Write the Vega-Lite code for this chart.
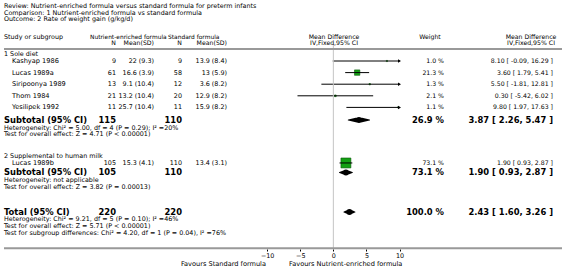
{
  "$schema": "https://vega.github.io/schema/vega-lite/v6.json",
  "width": 566,
  "height": 249,
  "autosize": "none",
  "padding": {"left": 0, "top": 0, "right": 0, "bottom": 23},
  "background": "white",
  "config": {
    "view": {"stroke": null},
    "text": {"font": "DejaVu Sans", "fontSize": 6.4, "baseline": "middle", "color": "#000000"},
    "axis": {"labelFont": "DejaVu Sans"}
  },
  "datasets": {
    "studies": [
      {"row": 1, "study": "Kashyap 1986", "n1": 9, "m1": "22 (9.3)", "n2": 9, "m2": "13.9 (8.4)", "md": 8.10, "lo": -0.09, "hi": 16.29, "w": 1.0, "wl": "1.0 %", "ci": "8.10 [ -0.09, 16.29 ]"},
      {"row": 2, "study": "Lucas 1989a", "n1": 61, "m1": "16.6 (3.9)", "n2": 58, "m2": "13 (5.9)", "md": 3.60, "lo": 1.79, "hi": 5.41, "w": 21.3, "wl": "21.3 %", "ci": "3.60 [ 1.79, 5.41 ]"},
      {"row": 3, "study": "Siripoonya 1989", "n1": 13, "m1": "9.1 (10.4)", "n2": 12, "m2": "3.6 (8.2)", "md": 5.50, "lo": -1.81, "hi": 12.81, "w": 1.3, "wl": "1.3 %", "ci": "5.50 [ -1.81, 12.81 ]"},
      {"row": 4, "study": "Thom 1984", "n1": 21, "m1": "13.2 (10.4)", "n2": 20, "m2": "12.9 (8.2)", "md": 0.30, "lo": -5.42, "hi": 6.02, "w": 2.1, "wl": "2.1 %", "ci": "0.30 [ -5.42, 6.02 ]"},
      {"row": 5, "study": "Yesilipek 1992", "n1": 11, "m1": "25.7 (10.4)", "n2": 11, "m2": "15.9 (8.2)", "md": 9.80, "lo": 1.97, "hi": 17.63, "w": 1.1, "wl": "1.1 %", "ci": "9.80 [ 1.97, 17.63 ]"},
      {"row": 9.79, "study": "Lucas 1989b", "n1": 105, "m1": "15.3 (4.1)", "n2": 110, "m2": "13.4 (3.1)", "md": 1.90, "lo": 0.93, "hi": 2.87, "w": 73.1, "wl": "73.1 %", "ci": "1.90 [ 0.93, 2.87 ]"}
    ],
    "pooled": [
      {"row": 6.09, "label": "Subtotal (95% CI)", "n1": 115, "n2": 110, "md": 3.87, "lo": 2.26, "hi": 5.47, "wl": "26.9 %", "ci": "3.87 [ 2.26, 5.47 ]"},
      {"row": 10.61, "label": "Subtotal (95% CI)", "n1": 105, "n2": 110, "md": 1.90, "lo": 0.93, "hi": 2.87, "wl": "73.1 %", "ci": "1.90 [ 0.93, 2.87 ]"},
      {"row": 14.02, "label": "Total (95% CI)", "n1": 220, "n2": 220, "md": 2.43, "lo": 1.60, "hi": 3.26, "wl": "100.0 %", "ci": "2.43 [ 1.60, 3.26 ]"}
    ],
    "notes": [
      {"row": -3.76, "text": "Review: Nutrient-enriched formula versus standard formula for preterm infants"},
      {"row": -3.18, "text": "Comparison: 1 Nutrient-enriched formula vs standard formula"},
      {"row": -2.60, "text": "Outcome: 2 Rate of weight gain (g/kg/d)"},
      {"row": 0.42, "text": "1 Sole diet"},
      {"row": 6.74, "text": "Heterogeneity: Chi² = 5.00, df = 4 (P = 0.29); I² =20%"},
      {"row": 7.30, "text": "Test for overall effect: Z = 4.71 (P < 0.00001)"},
      {"row": 9.19, "text": "2 Supplemental to human milk"},
      {"row": 11.26, "text": "Heterogeneity: not applicable"},
      {"row": 11.82, "text": "Test for overall effect: Z = 3.82 (P = 0.00013)"},
      {"row": 14.66, "text": "Heterogeneity: Chi² = 9.21, df = 5 (P = 0.10); I² =46%"},
      {"row": 15.24, "text": "Test for overall effect: Z = 5.71 (P < 0.00001)"},
      {"row": 15.84, "text": "Test for subgroup differences: Chi² = 4.20, df = 1 (P = 0.04), I² =76%"}
    ],
    "headers": [
      {"row": -1.10, "col": 0, "text": "Study or subgroup"},
      {"row": -1.10, "col": 2, "text": "Nutrient-enriched formula"},
      {"row": -1.10, "col": 5, "text": "Standard formula"},
      {"row": -0.55, "col": 3, "text": "N"},
      {"row": -0.55, "col": 4, "text": "Mean(SD)"},
      {"row": -0.55, "col": 6, "text": "N"},
      {"row": -0.55, "col": 7, "text": "Mean(SD)"},
      {"row": -1.10, "col": 10, "text": "Mean Difference"},
      {"row": -0.55, "col": 10, "text": "IV,Fixed,95% CI"},
      {"row": -1.10, "col": 11, "text": "Weight"},
      {"row": -1.10, "col": 13, "text": "Mean Difference"},
      {"row": -0.55, "col": 13, "text": "IV,Fixed,95% CI"}
    ]
  },
  "resolve": {"scale": {"x": "independent"}, "axis": {"x": "independent"}},
  "layer": [
    {
      "layer": [
        {
          "data": {"name": "studies"},
          "mark": {"type": "point", "shape": "square", "filled": true, "fill": "#14a014", "stroke": "#0a5a0a", "strokeWidth": 0.6, "opacity": 1},
          "encoding": {
            "x": {"field": "md", "type": "quantitative", "scale": {"domain": [-10, 10], "range": [267.2, 399.5], "clamp": true, "zero": false, "nice": false},
                  "axis": {"values": [-10, -5, 0, 5, 10], "domain": false, "grid": false, "ticks": true, "tickSize": 2, "tickColor": "#000000", "labelFontSize": 6.4, "labelColor": "#000000", "labelPadding": 1, "title": null, "labelFlush": false, "labelOverlap": false}},
            "y": {"field": "row", "type": "quantitative", "scale": {"domain": [-4.259, 17.207], "reverse": true, "zero": false, "nice": false}, "axis": null},
            "size": {"field": "w", "type": "quantitative", "scale": {"domain": [0, 100], "range": [0, 135]}, "legend": null}
          }
        },
        {
          "data": {"name": "studies"},
          "mark": {"type": "rule", "color": "#000000", "strokeWidth": 1},
          "encoding": {
            "x": {"field": "lo", "type": "quantitative", "scale": {"domain": [-10, 10], "range": [267.2, 399.5], "clamp": true, "zero": false, "nice": false},
                  "axis": {"values": [-10, -5, 0, 5, 10], "domain": false, "grid": false, "ticks": true, "tickSize": 2, "tickColor": "#000000", "labelFontSize": 6.4, "labelColor": "#000000", "labelPadding": 1, "title": null, "labelFlush": false, "labelOverlap": false}},
            "x2": {"field": "hi"},
            "y": {"field": "row", "type": "quantitative", "scale": {"domain": [-4.259, 17.207], "reverse": true, "zero": false, "nice": false}, "axis": null}
          }
        },
        {
          "data": {"name": "studies"},
          "transform": [{"filter": "datum.hi > 10"}],
          "mark": {"type": "point", "shape": "triangle-right", "filled": true, "color": "#000000", "size": 12, "opacity": 1},
          "encoding": {
            "x": {"field": "hi", "type": "quantitative", "scale": {"domain": [-10, 10], "range": [267.2, 399.5], "clamp": true, "zero": false, "nice": false},
                  "axis": {"values": [-10, -5, 0, 5, 10], "domain": false, "grid": false, "ticks": true, "tickSize": 2, "tickColor": "#000000", "labelFontSize": 6.4, "labelColor": "#000000", "labelPadding": 1, "title": null, "labelFlush": false, "labelOverlap": false}},
            "y": {"field": "row", "type": "quantitative", "scale": {"domain": [-4.259, 17.207], "reverse": true, "zero": false, "nice": false}, "axis": null}
          }
        },
        {
          "data": {"name": "pooled"},
          "transform": [{"fold": ["lo", "md", "hi"], "as": ["key", "val"]}],
          "mark": {"type": "trail", "color": "#000000"},
          "encoding": {
            "x": {"field": "val", "type": "quantitative", "scale": {"domain": [-10, 10], "range": [267.2, 399.5], "clamp": true, "zero": false, "nice": false},
                  "axis": {"values": [-10, -5, 0, 5, 10], "domain": false, "grid": false, "ticks": true, "tickSize": 2, "tickColor": "#000000", "labelFontSize": 6.4, "labelColor": "#000000", "labelPadding": 1, "title": null, "labelFlush": false, "labelOverlap": false}},
            "y": {"field": "row", "type": "quantitative", "scale": {"domain": [-4.259, 17.207], "reverse": true, "zero": false, "nice": false}, "axis": null},
            "detail": {"field": "row", "type": "quantitative"},
            "order": {"field": "val", "type": "quantitative"},
            "size": {"condition": {"test": "datum.key === 'md'", "value": 6}, "value": 0}
          }
        },
        {
          "data": {"values": [{"v": 0}]},
          "mark": {"type": "rule", "color": "#c4c4c4", "strokeWidth": 1},
          "encoding": {
            "x": {"field": "v", "type": "quantitative", "scale": {"domain": [-10, 10], "range": [267.2, 399.5], "clamp": true, "zero": false, "nice": false},
                  "axis": {"values": [-10, -5, 0, 5, 10], "domain": false, "grid": false, "ticks": true, "tickSize": 2, "tickColor": "#000000", "labelFontSize": 6.4, "labelColor": "#000000", "labelPadding": 1, "title": null, "labelFlush": false, "labelOverlap": false}},
            "y": {"datum": -0.5, "type": "quantitative", "scale": {"domain": [-4.259, 17.207], "reverse": true, "zero": false, "nice": false}, "axis": null},
            "y2": {"datum": 17.207}
          }
        }
      ]
    },
    {
      "layer": [
        {
          "data": {"values": [{}]},
          "mark": {"type": "rule", "color": "#999999", "strokeWidth": 2},
          "encoding": {
            "x": {"datum": 0, "type": "quantitative", "scale": {"domain": [0,1,2,3,4,5,6,7,8,9,10,11,12,13,14,15], "range": [4,12,90,116,154,168,182,227,266,289,334,430,444,531,553,562], "zero": false, "nice": false}, "axis": null},
            "x2": {"datum": 15},
            "y": {"datum": -0.03, "type": "quantitative", "scale": {"domain": [-4.259, 17.207], "reverse": true, "zero": false, "nice": false}, "axis": null}
          }
        },
        {
          "data": {"values": [{}]},
          "mark": {"type": "rule", "color": "#999999", "strokeWidth": 2},
          "encoding": {
            "x": {"datum": 0, "type": "quantitative", "scale": {"domain": [0,1,2,3,4,5,6,7,8,9,10,11,12,13,14,15], "range": [4,12,90,116,154,168,182,227,266,289,334,430,444,531,553,562], "zero": false, "nice": false}, "axis": null},
            "x2": {"datum": 15},
            "y": {"datum": 17.15, "type": "quantitative", "scale": {"domain": [-4.259, 17.207], "reverse": true, "zero": false, "nice": false}, "axis": null}
          }
        },
        {
          "data": {"name": "notes"},
          "mark": {"type": "text", "align": "left", "fontSize": 6.4},
          "encoding": {
            "x": {"datum": 0, "type": "quantitative", "scale": {"domain": [0,1,2,3,4,5,6,7,8,9,10,11,12,13,14,15], "range": [4,12,90,116,154,168,182,227,266,289,334,430,444,531,553,562], "zero": false, "nice": false}, "axis": null},
            "y": {"field": "row", "type": "quantitative", "scale": {"domain": [-4.259, 17.207], "reverse": true, "zero": false, "nice": false}, "axis": null},
            "text": {"field": "text"}
          }
        },
        {
          "data": {"name": "headers"},
          "transform": [{"filter": {"field": "col", "oneOf": [0]}}],
          "mark": {"type": "text", "align": "left", "fontSize": 6.4},
          "encoding": {
            "x": {"field": "col", "type": "quantitative", "scale": {"domain": [0,1,2,3,4,5,6,7,8,9,10,11,12,13,14,15], "range": [4,12,90,116,154,168,182,227,266,289,334,430,444,531,553,562], "zero": false, "nice": false}, "axis": null},
            "y": {"field": "row", "type": "quantitative", "scale": {"domain": [-4.259, 17.207], "reverse": true, "zero": false, "nice": false}, "axis": null},
            "text": {"field": "text"}
          }
        },
        {
          "data": {"name": "headers"},
          "transform": [{"filter": {"field": "col", "oneOf": [2, 5]}}],
          "mark": {"type": "text", "align": "left", "fontSize": 5.9},
          "encoding": {
            "x": {"field": "col", "type": "quantitative", "scale": {"domain": [0,1,2,3,4,5,6,7,8,9,10,11,12,13,14,15], "range": [4,12,90,116,154,168,182,227,266,289,334,430,444,531,553,562], "zero": false, "nice": false}, "axis": null},
            "y": {"field": "row", "type": "quantitative", "scale": {"domain": [-4.259, 17.207], "reverse": true, "zero": false, "nice": false}, "axis": null},
            "text": {"field": "text"}
          }
        },
        {
          "data": {"name": "headers"},
          "transform": [{"filter": {"field": "col", "oneOf": [3, 4, 6, 7]}}],
          "mark": {"type": "text", "align": "right", "fontSize": 6.2},
          "encoding": {
            "x": {"field": "col", "type": "quantitative", "scale": {"domain": [0,1,2,3,4,5,6,7,8,9,10,11,12,13,14,15], "range": [4,12,90,116,154,168,182,227,266,289,334,430,444,531,553,562], "zero": false, "nice": false}, "axis": null},
            "y": {"field": "row", "type": "quantitative", "scale": {"domain": [-4.259, 17.207], "reverse": true, "zero": false, "nice": false}, "axis": null},
            "text": {"field": "text"}
          }
        },
        {
          "data": {"name": "headers"},
          "transform": [{"filter": {"field": "col", "oneOf": [10, 11, 13]}}],
          "mark": {"type": "text", "align": "center", "fontSize": 6.2},
          "encoding": {
            "x": {"field": "col", "type": "quantitative", "scale": {"domain": [0,1,2,3,4,5,6,7,8,9,10,11,12,13,14,15], "range": [4,12,90,116,154,168,182,227,266,289,334,430,444,531,553,562], "zero": false, "nice": false}, "axis": null},
            "y": {"field": "row", "type": "quantitative", "scale": {"domain": [-4.259, 17.207], "reverse": true, "zero": false, "nice": false}, "axis": null},
            "text": {"field": "text"}
          }
        },
        {
          "data": {"name": "studies"},
          "mark": {"type": "text", "align": "left", "fontSize": 6.6},
          "encoding": {
            "x": {"datum": 1, "type": "quantitative", "scale": {"domain": [0,1,2,3,4,5,6,7,8,9,10,11,12,13,14,15], "range": [4,12,90,116,154,168,182,227,266,289,334,430,444,531,553,562], "zero": false, "nice": false}, "axis": null},
            "y": {"field": "row", "type": "quantitative", "scale": {"domain": [-4.259, 17.207], "reverse": true, "zero": false, "nice": false}, "axis": null},
            "text": {"field": "study"}
          }
        },
        {
          "data": {"name": "studies"},
          "mark": {"type": "text", "align": "right"},
          "encoding": {
            "x": {"datum": 3, "type": "quantitative", "scale": {"domain": [0,1,2,3,4,5,6,7,8,9,10,11,12,13,14,15], "range": [4,12,90,116,154,168,182,227,266,289,334,430,444,531,553,562], "zero": false, "nice": false}, "axis": null},
            "y": {"field": "row", "type": "quantitative", "scale": {"domain": [-4.259, 17.207], "reverse": true, "zero": false, "nice": false}, "axis": null},
            "text": {"field": "n1"}
          }
        },
        {
          "data": {"name": "studies"},
          "mark": {"type": "text", "align": "right"},
          "encoding": {
            "x": {"datum": 4, "type": "quantitative", "scale": {"domain": [0,1,2,3,4,5,6,7,8,9,10,11,12,13,14,15], "range": [4,12,90,116,154,168,182,227,266,289,334,430,444,531,553,562], "zero": false, "nice": false}, "axis": null},
            "y": {"field": "row", "type": "quantitative", "scale": {"domain": [-4.259, 17.207], "reverse": true, "zero": false, "nice": false}, "axis": null},
            "text": {"field": "m1"}
          }
        },
        {
          "data": {"name": "studies"},
          "mark": {"type": "text", "align": "right"},
          "encoding": {
            "x": {"datum": 6, "type": "quantitative", "scale": {"domain": [0,1,2,3,4,5,6,7,8,9,10,11,12,13,14,15], "range": [4,12,90,116,154,168,182,227,266,289,334,430,444,531,553,562], "zero": false, "nice": false}, "axis": null},
            "y": {"field": "row", "type": "quantitative", "scale": {"domain": [-4.259, 17.207], "reverse": true, "zero": false, "nice": false}, "axis": null},
            "text": {"field": "n2"}
          }
        },
        {
          "data": {"name": "studies"},
          "mark": {"type": "text", "align": "right"},
          "encoding": {
            "x": {"datum": 7, "type": "quantitative", "scale": {"domain": [0,1,2,3,4,5,6,7,8,9,10,11,12,13,14,15], "range": [4,12,90,116,154,168,182,227,266,289,334,430,444,531,553,562], "zero": false, "nice": false}, "axis": null},
            "y": {"field": "row", "type": "quantitative", "scale": {"domain": [-4.259, 17.207], "reverse": true, "zero": false, "nice": false}, "axis": null},
            "text": {"field": "m2"}
          }
        },
        {
          "data": {"name": "studies"},
          "mark": {"type": "text", "align": "right", "fontSize": 6.2},
          "encoding": {
            "x": {"datum": 12, "type": "quantitative", "scale": {"domain": [0,1,2,3,4,5,6,7,8,9,10,11,12,13,14,15], "range": [4,12,90,116,154,168,182,227,266,289,334,430,444,531,553,562], "zero": false, "nice": false}, "axis": null},
            "y": {"field": "row", "type": "quantitative", "scale": {"domain": [-4.259, 17.207], "reverse": true, "zero": false, "nice": false}, "axis": null},
            "text": {"field": "wl"}
          }
        },
        {
          "data": {"name": "studies"},
          "mark": {"type": "text", "align": "right", "fontSize": 6.2},
          "encoding": {
            "x": {"datum": 14, "type": "quantitative", "scale": {"domain": [0,1,2,3,4,5,6,7,8,9,10,11,12,13,14,15], "range": [4,12,90,116,154,168,182,227,266,289,334,430,444,531,553,562], "zero": false, "nice": false}, "axis": null},
            "y": {"field": "row", "type": "quantitative", "scale": {"domain": [-4.259, 17.207], "reverse": true, "zero": false, "nice": false}, "axis": null},
            "text": {"field": "ci"}
          }
        },
        {
          "data": {"name": "pooled"},
          "mark": {"type": "text", "align": "left", "fontWeight": "bold", "fontSize": 8.4},
          "encoding": {
            "x": {"datum": 0, "type": "quantitative", "scale": {"domain": [0,1,2,3,4,5,6,7,8,9,10,11,12,13,14,15], "range": [4,12,90,116,154,168,182,227,266,289,334,430,444,531,553,562], "zero": false, "nice": false}, "axis": null},
            "y": {"field": "row", "type": "quantitative", "scale": {"domain": [-4.259, 17.207], "reverse": true, "zero": false, "nice": false}, "axis": null},
            "text": {"field": "label"}
          }
        },
        {
          "data": {"name": "pooled"},
          "mark": {"type": "text", "align": "right", "fontWeight": "bold", "fontSize": 8.4},
          "encoding": {
            "x": {"datum": 3, "type": "quantitative", "scale": {"domain": [0,1,2,3,4,5,6,7,8,9,10,11,12,13,14,15], "range": [4,12,90,116,154,168,182,227,266,289,334,430,444,531,553,562], "zero": false, "nice": false}, "axis": null},
            "y": {"field": "row", "type": "quantitative", "scale": {"domain": [-4.259, 17.207], "reverse": true, "zero": false, "nice": false}, "axis": null},
            "text": {"field": "n1"}
          }
        },
        {
          "data": {"name": "pooled"},
          "mark": {"type": "text", "align": "right", "fontWeight": "bold", "fontSize": 8.4},
          "encoding": {
            "x": {"datum": 6, "type": "quantitative", "scale": {"domain": [0,1,2,3,4,5,6,7,8,9,10,11,12,13,14,15], "range": [4,12,90,116,154,168,182,227,266,289,334,430,444,531,553,562], "zero": false, "nice": false}, "axis": null},
            "y": {"field": "row", "type": "quantitative", "scale": {"domain": [-4.259, 17.207], "reverse": true, "zero": false, "nice": false}, "axis": null},
            "text": {"field": "n2"}
          }
        },
        {
          "data": {"name": "pooled"},
          "mark": {"type": "text", "align": "right", "fontWeight": "bold", "fontSize": 8.4},
          "encoding": {
            "x": {"datum": 12, "type": "quantitative", "scale": {"domain": [0,1,2,3,4,5,6,7,8,9,10,11,12,13,14,15], "range": [4,12,90,116,154,168,182,227,266,289,334,430,444,531,553,562], "zero": false, "nice": false}, "axis": null},
            "y": {"field": "row", "type": "quantitative", "scale": {"domain": [-4.259, 17.207], "reverse": true, "zero": false, "nice": false}, "axis": null},
            "text": {"field": "wl"}
          }
        },
        {
          "data": {"name": "pooled"},
          "mark": {"type": "text", "align": "right", "fontWeight": "bold", "fontSize": 8.4},
          "encoding": {
            "x": {"datum": 14, "type": "quantitative", "scale": {"domain": [0,1,2,3,4,5,6,7,8,9,10,11,12,13,14,15], "range": [4,12,90,116,154,168,182,227,266,289,334,430,444,531,553,562], "zero": false, "nice": false}, "axis": null},
            "y": {"field": "row", "type": "quantitative", "scale": {"domain": [-4.259, 17.207], "reverse": true, "zero": false, "nice": false}, "axis": null},
            "text": {"field": "ci"}
          }
        },
        {
          "data": {"values": [{}]},
          "mark": {"type": "text", "align": "right", "fontSize": 6.6},
          "encoding": {
            "x": {"datum": 8, "type": "quantitative", "scale": {"domain": [0,1,2,3,4,5,6,7,8,9,10,11,12,13,14,15], "range": [4,12,90,116,154,168,182,227,266,289,334,430,444,531,553,562], "zero": false, "nice": false}, "axis": null},
            "y": {"datum": 18.5, "type": "quantitative", "scale": {"domain": [-4.259, 17.207], "reverse": true, "zero": false, "nice": false}, "axis": null},
            "text": {"value": "Favours Standard formula"}
          }
        },
        {
          "data": {"values": [{}]},
          "mark": {"type": "text", "align": "left", "fontSize": 6.6},
          "encoding": {
            "x": {"datum": 9, "type": "quantitative", "scale": {"domain": [0,1,2,3,4,5,6,7,8,9,10,11,12,13,14,15], "range": [4,12,90,116,154,168,182,227,266,289,334,430,444,531,553,562], "zero": false, "nice": false}, "axis": null},
            "y": {"datum": 18.5, "type": "quantitative", "scale": {"domain": [-4.259, 17.207], "reverse": true, "zero": false, "nice": false}, "axis": null},
            "text": {"value": "Favours Nutrient-enriched formula"}
          }
        }
      ]
    }
  ]
}
